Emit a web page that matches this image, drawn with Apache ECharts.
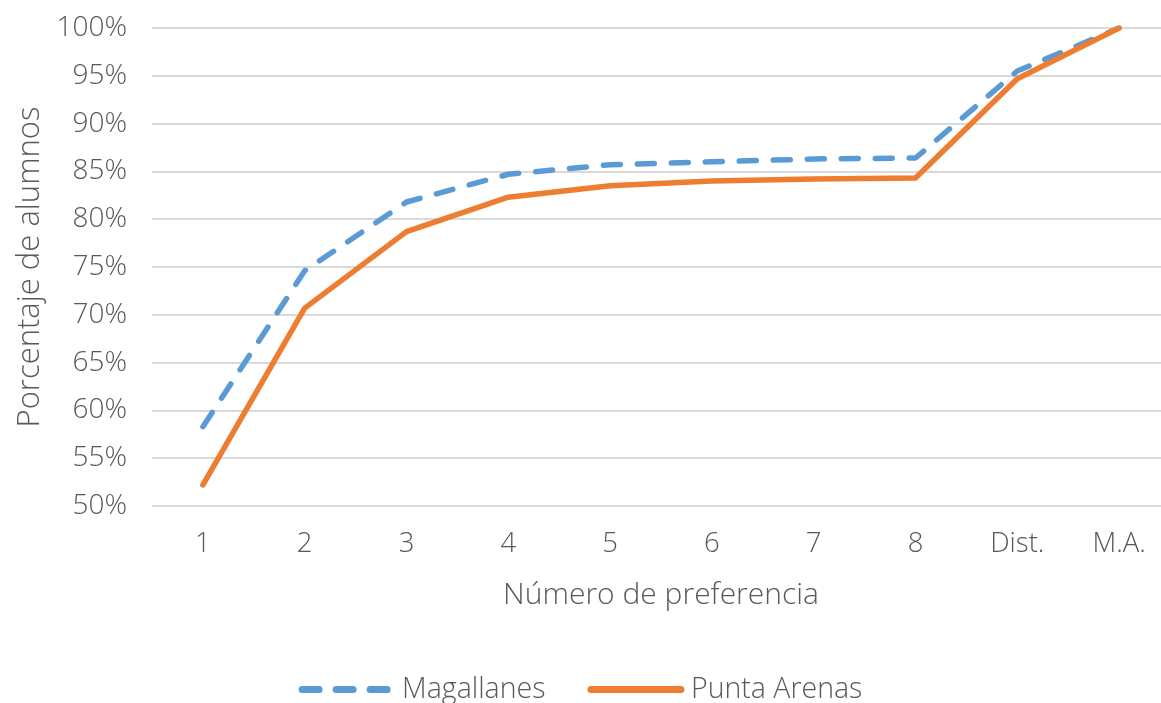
<!DOCTYPE html>
<html><head><meta charset="utf-8">
<script src="https://cdn.jsdelivr.net/npm/echarts@6/dist/echarts.min.js"></script>
<style>html,body{margin:0;padding:0;background:#fff}#c{width:1161px;height:703px}</style>
</head><body><div id="c"></div>
<script>
const categories = ['1','2','3','4','5','6','7','8','Dist.','M.A.'];
const magallanes = [58.3, 74.6, 81.8, 84.7, 85.7, 86.0, 86.3, 86.4, 95.5, 100];
const puntaArenas = [52.2, 70.7, 78.7, 82.3, 83.5, 84.0, 84.2, 84.3, 94.7, 100];
const seriesNames = ['Magallanes', 'Punta Arenas'];
const xTitle = 'Número de preferencia';
const yTitle = 'Porcentaje de alumnos';

const FONT = 'Open Sans';
const BLUE = '#5B9BD5', ORANGE = '#ED7D31';
const chart = echarts.init(document.getElementById('c'));
chart.setOption({
  animation: false,
  textStyle: {fontFamily: FONT},
  grid: {left: 152, top: 28, width: 1018, height: 478, outerBoundsMode: 'none', containLabel: false},
  xAxis: {
    type: 'category', data: categories, boundaryGap: true,
    axisLine: {show: false}, axisTick: {show: false},
    axisLabel: {color: '#595959', fontSize: 27.5, margin: 24, fontFamily: FONT, fontWeight: 300},
    name: xTitle, nameLocation: 'middle', nameGap: 74,
    nameTextStyle: {color: '#595959', fontSize: 30, fontFamily: FONT, fontWeight: 300}
  },
  yAxis: {
    type: 'value', min: 50, max: 100, interval: 5,
    axisLine: {show: false}, axisTick: {show: false},
    axisLabel: {color: '#595959', fontSize: 28, margin: 25, fontFamily: FONT, fontWeight: 300, formatter: v => v + '%'},
    splitLine: {lineStyle: {color: '#d9d9d9', width: 2}},
    name: yTitle, nameLocation: 'middle', nameGap: 106, nameRotate: 90,
    nameTextStyle: {color: '#595959', fontSize: 31, fontFamily: FONT, fontWeight: 300}
  },
  legend: {
    bottom: -6, left: 'center', itemWidth: 90, itemHeight: 14, itemGap: 42,
    textStyle: {color: '#595959', fontSize: 28.5, fontFamily: FONT, fontWeight: 300, padding: [0, 0, 0, 5]},
    data: [
      {name: seriesNames[0], itemStyle: {opacity: 0}, lineStyle: {color: BLUE, width: 7, type: [17, 17], cap: 'round'}},
      {name: seriesNames[1], itemStyle: {opacity: 0}, lineStyle: {color: ORANGE, width: 7, cap: 'round'}}
    ]
  },
  series: [
    {name: seriesNames[0], type: 'line', data: magallanes, symbol: 'none',
     lineStyle: {color: BLUE, width: 5.5, type: [17, 17], cap: 'round'}, itemStyle: {color: BLUE}},
    {name: seriesNames[1], type: 'line', data: puntaArenas, symbol: 'none',
     lineStyle: {color: ORANGE, width: 5.5, cap: 'round', join: 'round'}, itemStyle: {color: ORANGE}}
  ]
});
</script></body></html>
